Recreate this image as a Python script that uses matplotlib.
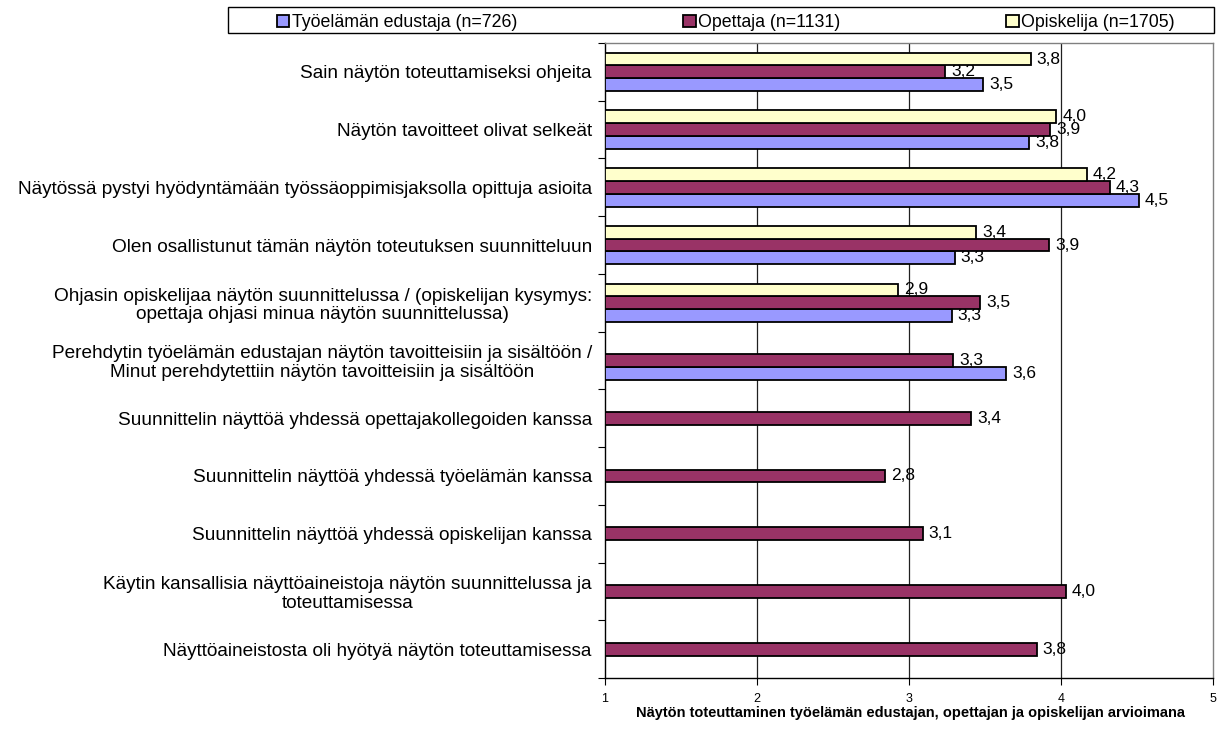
import numpy as np
import matplotlib
matplotlib.use("Agg")
import matplotlib.pyplot as plt
from matplotlib.patches import Rectangle

plt.rcParams["font.family"] = ["Liberation Sans", "DejaVu Sans"]

categories = [
    "Sain näytön toteuttamiseksi ohjeita",
    "Näytön tavoitteet olivat selkeät",
    "Näytössä pystyi hyödyntämään työssäoppimisjaksolla opittuja asioita",
    "Olen osallistunut tämän näytön toteutuksen suunnitteluun",
    "Ohjasin opiskelijaa näytön suunnittelussa / (opiskelijan kysymys:\nopettaja ohjasi minua näytön suunnittelussa)",
    "Perehdytin työelämän edustajan näytön tavoitteisiin ja sisältöön /\nMinut perehdytettiin näytön tavoitteisiin ja sisältöön",
    "Suunnittelin näyttöä yhdessä opettajakollegoiden kanssa",
    "Suunnittelin näyttöä yhdessä työelämän kanssa",
    "Suunnittelin näyttöä yhdessä opiskelijan kanssa",
    "Käytin kansallisia näyttöaineistoja näytön suunnittelussa ja\ntoteuttamisessa",
    "Näyttöaineistosta oli hyötyä näytön toteuttamisessa",
]
nan = np.nan
tyoelama = [3.49, 3.79, 4.51, 3.30, 3.28, 3.64, nan, nan, nan, nan, nan]
opettaja = [3.24, 3.93, 4.32, 3.92, 3.47, 3.29, 3.41, 2.84, 3.09, 4.03, 3.84]
opiskelija = [3.80, 3.97, 4.17, 3.44, 2.93, nan, nan, nan, nan, nan, nan]

series = [
    ("Työelämän edustaja (n=726)", tyoelama, "#9999FF", 1),
    ("Opettaja (n=1131)", opettaja, "#993366", 0),
    ("Opiskelija (n=1705)", opiskelija, "#FFFFCC", -1),
]

W, H = 1218, 749
fig = plt.figure(figsize=(W / 100, H / 100), dpi=100)
ax = fig.add_axes([605 / W, 1 - 678 / H, (1213 - 605) / W, (678 - 43) / H])

y = np.arange(len(categories))
bh = 0.222
handles = []
for name, vals, col, off in series:
    vals = np.array(vals, dtype=float)
    bars = ax.barh(y + off * bh, np.nan_to_num(vals - 1), left=1, height=bh,
                   color=col, edgecolor="black", linewidth=1.3, zorder=3, label=name)
    handles.append(bars)
    for yi, v in zip(y, vals):
        if np.isnan(v):
            bars[yi].set_visible(False)
            continue
        ax.text(v + 0.04, yi + off * bh, f"{v:.1f}".replace(".", ","),
                va="center", ha="left", fontsize=12.5, zorder=2.5)

ax.set_xlim(1, 5)
ax.set_ylim(len(categories) - 0.5, -0.5)
ax.set_xticks([1, 2, 3, 4, 5])
ax.tick_params(axis="x", direction="out", length=5, pad=6, labelsize=9)
ax.set_yticks(np.arange(-0.5, len(categories)), labels=[])
ax.set_yticks(y, labels=categories, minor=True)
ax.tick_params(axis="y", which="major", direction="out", length=5)
ax.tick_params(axis="y", which="minor", length=0, pad=9.5, labelsize=13.7)
for lbl in ax.get_yticklabels(minor=True):
    lbl.set_multialignment("center")
    lbl.set_linespacing(1.1)

for xv in [2, 3, 4]:
    ax.axvline(xv, color="#202020", linewidth=0.9, zorder=1)
for s in ["left", "bottom"]:
    ax.spines[s].set_color("black")
    ax.spines[s].set_linewidth(1.0)
for s in ["top", "right"]:
    ax.spines[s].set_color("#808080")
    ax.spines[s].set_linewidth(1.0)

fig.text(911 / W, 1 - 713 / H,
         "Näytön toteuttaminen työelämän edustajan, opettajan ja opiskelijan arvioimana",
         ha="center", va="center", fontsize=10.5, fontweight="bold")

# legend: frameless, spread across, with its own box
fig.patches.append(Rectangle((228 / W, 1 - 33 / H), (1214 - 228) / W, 26 / H,
                             transform=fig.transFigure, fill=False,
                             edgecolor="black", linewidth=1.0))
fig.legend(handles=handles, loc="lower left", ncol=3, mode="expand", frameon=False,
           bbox_to_anchor=(277 / W, 1 - 31 / H, (1175 - 277) / W, 22 / H),
           borderaxespad=0, borderpad=0, fontsize=12.8,
           handlelength=0.7, handleheight=0.7, handletextpad=0.15)

fig.savefig("out.png", dpi=100)
